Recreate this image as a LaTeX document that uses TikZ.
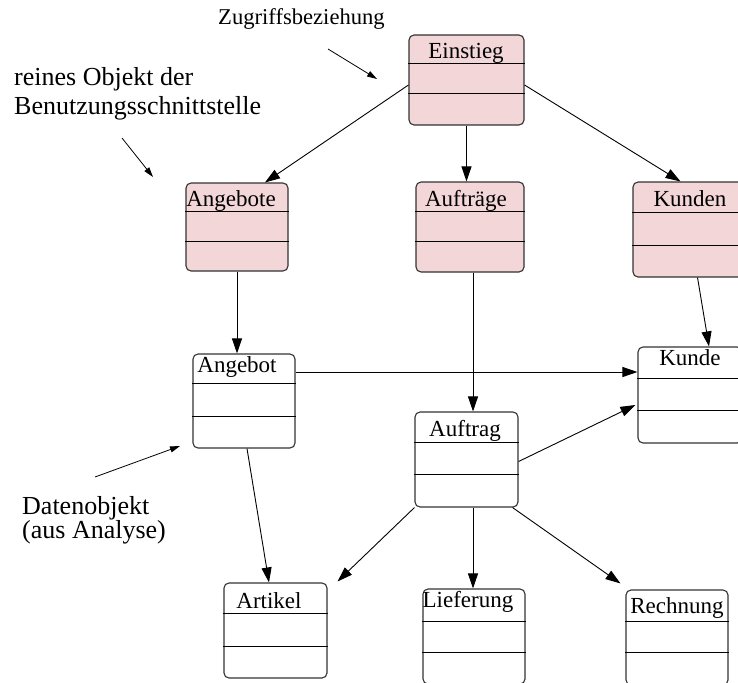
\documentclass[tikz,border=0pt]{standalone}
\usepackage{fontspec}
\setmainfont{Liberation Serif}
\usetikzlibrary{arrows.meta,calc}

\definecolor{uipink}{RGB}{242,214,216}

% class box: name, style, centre, width, height, first and second divider (from top)
\newcommand\umlclass[7]{%
  \node[#2, minimum width=#4pt, minimum height=#5pt] (#1) at (#3) {};
  \draw[divider] ($(#1.north west)+(0,#6)$) -- ($(#1.north east)+(0,#6)$);
  \draw[divider] ($(#1.north west)+(0,#7)$) -- ($(#1.north east)+(0,#7)$);
}

\tikzset{
  classbox/.style={draw=black!80, line width=1.1pt, rounded corners=5pt,
    inner sep=0pt, fill=white},
  uibox/.style={classbox, fill=uipink},
  divider/.style={line width=1pt, black},
  title/.style={anchor=base, inner sep=0pt, font=\fontsize{23}{26}\selectfont},
  note/.style={anchor=base west, inner sep=0pt, font=\fontsize{26}{28}\selectfont},
  link/.style={line width=0.9pt, -{Triangle[length=15pt,width=10pt]}},
  hint/.style={line width=0.8pt, -{Triangle[length=10pt,width=6pt]}},
}

\begin{document}
\begin{tikzpicture}[x=1pt, y=-1pt]
\useasboundingbox (0,0) rectangle (738,682);
\clip (0,0) rectangle (738,682);

% interface objects
\umlclass{ein}{uibox}{466.5,80}{115}{90}{29}{59}
\umlclass{angebote}{uibox}{237,227}{102}{88}{29}{59}
\umlclass{auftraege}{uibox}{470,227}{108}{90}{30}{60}
\umlclass{kunden}{uibox}{690.5,229.5}{115}{95}{31}{64}

% data objects
\umlclass{angebot}{classbox}{244,401}{102}{94}{30}{63}
\umlclass{auftrag}{classbox}{466.5,459.5}{103}{95}{31}{63}
\umlclass{kunde}{classbox}{690,395}{104}{96}{32}{64}
\umlclass{artikel}{classbox}{275.5,630.5}{103}{95}{31}{64}
\umlclass{lieferung}{classbox}{474,636.5}{102}{95}{33}{64}
\umlclass{rechnung}{classbox}{677,637.5}{102}{95}{32}{63}

% class names
\node[title] (tein) at (466,59) {Einstieg};
\node[title] (tangebote) at (231,206) {Angebote};
\node[title] (tauftraege) at (466,206) {Aufträge};
\node[title] (tkunden) at (690,206.5) {Kunden};
\node[title] (tangebot) at (237,372) {Angebot};
\node[title] (tauftrag) at (465,436) {Auftrag};
\node[title] (tkunde) at (690,365) {Kunde};
\node[title] (tartikel) at (269,608) {Artikel};
\node[title] (tlieferung) at (468,607) {Lieferung};
\node[title] (trechnung) at (677,613) {Rechnung};

% access relations
\draw[link] ($(ein.west)+(0,5)$) -- ($(angebote.north)+(28,0)$);
\draw[link] (ein.south) -- (ein.south |- auftraege.north);
\draw[link] ($(ein.east)+(0,5)$) -- ($(kunden.north)+(-10,0)$);

\draw[link] (angebote.south) -- (angebote.south |- angebot.north);
\coordinate (auftraegeout) at ($(auftraege.south)+(3,0)$);
\draw[link] (auftraegeout) -- (auftraegeout |- auftrag.north);
\draw[link] ($(kunden.south)+(7,0)$) -- ($(kunde.north)+(19,0)$);

\coordinate (angebotout) at ($(angebot.east)+(0,-29)$);
\draw[link] (angebotout) -- (angebotout -| kunde.west);
\draw[link] ($(auftrag.east)+(0,2)$) -- ($(kunde.west)+(-2,10)$);

\draw[link] ($(angebot.south)+(3,0)$) -- ($(artikel.north)+(-6.5,0)$);
\draw[link] (auftrag.south west) -- ($(artikel.north east)+(10,-1)$);
\coordinate (auftragout) at ($(auftrag.south)+(6.5,0)$);
\draw[link] (auftragout) -- (auftragout |- lieferung.north);
\draw[link] ($(auftrag.south east)+(-6,0)$) -- ($(rechnung.north west)+(-5,-6)$);

% annotations
\node[anchor=base west, inner sep=0pt, font=\fontsize{22.6}{26}\selectfont]
  (nzugriff) at (218,25) {Zugriffsbeziehung};
\node[note] (nrein1) at (14,86) {reines Objekt der};
\node[note] (nrein2) at (14,114) {Benutzungsschnittstelle};
\node[note] (ndaten1) at (22,514) {Datenobjekt};
\node[note] (ndaten2) at (22,538) {(aus Analyse)};

\coordinate (zfrom) at (328,49);
\coordinate (zto) at (377,79);
\coordinate (rfrom) at (122,138);
\coordinate (rto) at (153,177);
\coordinate (dfrom) at (95,477);
\coordinate (dto) at (180,446);
\draw[hint] (zfrom) -- (zto);
\draw[hint] (rfrom) -- (rto);
\draw[hint] (dfrom) -- (dto);
\end{tikzpicture}
\end{document}
